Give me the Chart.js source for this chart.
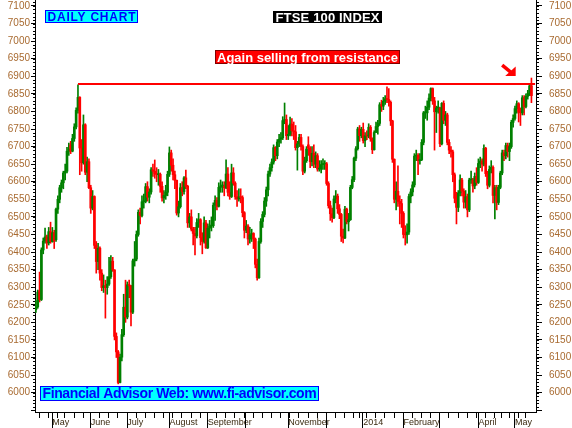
<!DOCTYPE html>
<html><head><meta charset="utf-8">
<script src="https://cdn.jsdelivr.net/npm/chart.js@4/dist/chart.umd.min.js"></script>
<style>html,body{margin:0;padding:0;background:#fff;}canvas{display:block;}</style>
</head><body>
<canvas id="c" width="572" height="428" style="width:572px;height:428px"></canvas>
<script>
// ---- categories: trading days per month ----
const monthKeys = ['2013-04','2013-05','2013-06','2013-07','2013-08','2013-09','2013-10','2013-11','2013-12','2014-01','2014-02','2014-03','2014-04','2014-05'];
const monthDays = [
  [18,19,22,23,24,25,26,29,30],
  [1,2,3,7,8,9,10,13,14,15,16,17,20,21,22,23,24,28,29,30,31],
  [3,4,5,6,7,10,11,12,13,14,17,18,19,20,21,24,25,26,27,28],
  [1,2,3,4,5,8,9,10,11,12,15,16,17,18,19,22,23,24,25,26,29,30,31],
  [1,2,5,6,7,8,9,12,13,14,15,16,19,20,21,22,23,27,28,29,30],
  [2,3,4,5,6,9,10,11,12,13,16,17,18,19,20,23,24,25,26,27,30],
  [1,2,3,4,7,8,9,10,11,14,15,16,17,18,21,22,23,24,25,28,29,30,31],
  [1,4,5,6,7,8,11,12,13,14,15,18,19,20,21,22,25,26,27,28,29],
  [2,3,4,5,6,9,10,11,12,13,16,17,18,19,20,23,24,27,30,31],
  [2,3,6,7,8,9,10,13,14,15,16,17,20,21,22,23,24,27,28,29,30,31],
  [3,4,5,6,7,10,11,12,13,14,17,18,19,20,21,24,25,26,27,28],
  [3,4,5,6,7,10,11,12,13,14,17,18,19,20,21,24,25,26,27,28,31],
  [1,2,3,4,7,8,9,10,11,14,15,16,17,22,23,24,25,28,29,30],
  [1,2,6,7,8,9,12,13,14,15]
];
// x tick labels (shown at first trading day of the month)
const monthLabels = ['', 'May', 'June', 'July', 'August', 'September', '', 'November', '', '2014', 'February', '', 'April', 'May'];

// ---- series values (OHLC) ----
const opens = [
  6236,6244,6290,6265,6406,6431,6443,6426,6458,
  6430,6455,6435,6522,6550,6583,6597,6625,6630,6687,6705,6687,6723,6756,6803,6840,6696,6654,6762,6627,6657,
  6583,6525,6558,6419,6373,6411,6340,6299,6304,6299,6309,6330,6374,6349,6160,6116,6029,6101,6165,6243,
  6215,6307,6304,6229,6375,6380,6450,6513,6504,6543,6544,6586,6556,6571,6634,6630,6623,6620,6621,6587,6554,6561,6570,
  6621,6682,6647,6620,6604,6511,6529,6583,6572,6611,6587,6483,6500,6465,6453,6446,6484,6492,6441,6430,6483,
  6412,6468,6474,6475,6533,6547,6530,6584,6588,6588,6583,6622,6570,6558,6625,6596,6557,6551,6557,6555,6512,
  6462,6474,6437,6449,6453,6437,6365,6327,6430,6487,6507,6545,6577,6622,6640,6656,6697,6674,6713,6721,6725,6774,6777,
  6731,6735,6764,6745,6742,6697,6708,6726,6700,6630,6660,6705,6695,6657,6681,6650,6674,6636,6636,6649,6650,
  6651,6595,6532,6509,6498,6551,6559,6523,6507,6445,6440,6522,6486,6492,6584,6606,6667,6694,6750,6731,
  6749,6717,6731,6730,6755,6722,6691,6740,6757,6766,6819,6815,6829,6836,6834,6826,6773,6664,6550,6573,6544,6538,
  6510,6450,6449,6457,6558,6571,6591,6673,6675,6660,6663,6712,6796,6796,6812,6838,6865,6830,6799,6810,
  6810,6708,6823,6775,6790,6712,6690,6685,6620,6553,6527,6568,6605,6573,6542,6557,6520,6605,6605,6588,6615,
  6598,6652,6659,6650,6695,6623,6590,6635,6641,6561,6583,6541,6584,6625,6682,6674,6703,6686,6700,6769,
  6780,6808,6822,6798,6796,6839,6814,6843,6851,6873
];
const highs = [
  6262,6292,6343,6412,6440,6468,6448,6470,6485,
  6470,6462,6525,6560,6590,6605,6630,6650,6698,6710,6715,6735,6765,6810,6876,6842,6720,6790,6765,6670,6665,
  6590,6575,6560,6430,6425,6415,6350,6335,6320,6330,6385,6390,6385,6350,6170,6120,6110,6180,6280,6320,
  6315,6320,6305,6380,6430,6460,6520,6525,6560,6565,6595,6600,6580,6640,6650,6662,6640,6635,6625,6600,6575,6590,6630,
  6699,6690,6665,6630,6605,6545,6595,6600,6615,6633,6590,6510,6520,6470,6470,6495,6510,6495,6455,6500,6490,
  6480,6490,6500,6540,6560,6555,6597,6605,6600,6600,6662,6640,6600,6650,6640,6600,6575,6580,6580,6560,6515,
  6490,6478,6470,6465,6455,6440,6380,6440,6495,6515,6555,6585,6630,6650,6665,6705,6700,6720,6735,6740,6785,6824,6790,
  6760,6784,6780,6770,6760,6715,6735,6735,6705,6670,6700,6728,6700,6700,6705,6685,6680,6660,6660,6665,6660,
  6655,6600,6545,6525,6560,6575,6565,6535,6510,6465,6530,6525,6510,6590,6615,6670,6700,6755,6760,6755,
  6767,6740,6745,6765,6760,6725,6745,6770,6775,6825,6832,6840,6845,6870,6865,6830,6775,6665,6600,6645,6560,6550,
  6515,6475,6480,6565,6580,6600,6680,6690,6680,6680,6720,6800,6815,6830,6850,6867,6867,6840,6815,6830,
  6812,6825,6830,6800,6795,6720,6700,6690,6625,6570,6575,6620,6610,6580,6575,6565,6610,6630,6610,6625,6640,
  6665,6670,6665,6705,6698,6630,6645,6660,6645,6590,6590,6590,6630,6690,6690,6710,6710,6710,6775,6790,
  6815,6830,6825,6810,6845,6845,6850,6860,6880,6895
];
const lows = [
  6228,6240,6258,6262,6395,6425,6410,6420,6425,
  6428,6410,6430,6510,6540,6570,6580,6605,6625,6675,6680,6685,6715,6750,6795,6620,6630,6650,6620,6600,6580,
  6510,6520,6410,6340,6350,6320,6290,6285,6212,6280,6305,6325,6345,6150,6100,6025,6028,6090,6160,6200,
  6210,6270,6190,6225,6360,6375,6445,6480,6500,6525,6540,6545,6540,6565,6615,6610,6600,6590,6570,6545,6540,6550,6560,
  6615,6630,6605,6580,6505,6500,6525,6560,6565,6580,6470,6470,6460,6420,6392,6440,6470,6420,6395,6425,6410,
  6410,6440,6460,6470,6490,6520,6528,6570,6570,6560,6580,6560,6550,6555,6590,6550,6530,6545,6540,6500,6440,
  6455,6420,6425,6430,6410,6355,6320,6325,6425,6470,6500,6530,6560,6615,6630,6650,6660,6665,6700,6710,6720,6765,6720,
  6720,6730,6730,6720,6690,6633,6700,6690,6620,6625,6655,6675,6640,6645,6640,6640,6630,6630,6625,6635,6635,
  6590,6525,6490,6485,6495,6540,6510,6495,6430,6426,6438,6480,6460,6490,6580,6600,6660,6690,6715,6725,
  6710,6700,6720,6725,6715,6680,6690,6740,6735,6760,6800,6805,6820,6825,6815,6760,6655,6540,6520,6530,6480,6470,
  6440,6420,6425,6450,6540,6560,6585,6660,6620,6650,6660,6705,6780,6775,6805,6830,6820,6690,6740,6795,
  6700,6705,6765,6760,6705,6680,6670,6600,6540,6480,6515,6560,6560,6525,6525,6500,6515,6595,6570,6580,6590,
  6595,6640,6630,6645,6615,6580,6585,6625,6540,6494,6520,6535,6580,6620,6660,6665,6670,6660,6695,6755,
  6775,6795,6770,6760,6790,6790,6810,6835,6845,6825
];
const closes = [
  6244,6286,6265,6406,6431,6443,6426,6458,6430,
  6455,6432,6522,6550,6583,6597,6625,6630,6687,6693,6687,6723,6756,6803,6840,6696,6654,6762,6627,6657,6583,
  6525,6558,6419,6373,6411,6340,6299,6304,6299,6309,6330,6374,6349,6160,6116,6029,6101,6165,6243,6215,
  6307,6304,6229,6375,6380,6450,6513,6504,6543,6544,6586,6556,6571,6634,6630,6623,6620,6621,6587,6554,6561,6570,6621,
  6682,6647,6620,6604,6511,6529,6583,6572,6611,6587,6483,6500,6465,6453,6446,6484,6492,6441,6430,6483,6412,
  6468,6474,6475,6533,6547,6530,6584,6588,6588,6583,6622,6570,6558,6625,6596,6557,6551,6557,6555,6512,6462,
  6474,6437,6449,6453,6437,6365,6327,6430,6487,6507,6545,6577,6622,6640,6656,6697,6674,6713,6721,6725,6774,6777,6731,
  6735,6764,6745,6742,6697,6708,6726,6700,6630,6660,6693,6695,6657,6681,6650,6674,6636,6636,6649,6650,6651,
  6595,6532,6509,6498,6551,6559,6523,6507,6445,6440,6522,6486,6492,6584,6606,6667,6694,6750,6731,6749,
  6717,6731,6730,6755,6722,6691,6740,6757,6766,6819,6815,6829,6836,6834,6826,6773,6664,6550,6573,6544,6538,6510,
  6450,6449,6457,6558,6571,6591,6673,6675,6660,6663,6712,6796,6796,6812,6838,6865,6830,6799,6810,6810,
  6708,6823,6775,6790,6712,6690,6685,6620,6553,6527,6568,6605,6573,6542,6557,6520,6605,6605,6588,6615,6598,
  6652,6659,6650,6695,6623,6590,6635,6641,6561,6583,6541,6584,6625,6682,6674,6703,6686,6700,6769,6780,
  6808,6822,6798,6796,6839,6814,6843,6851,6873,6845
];
const resistanceLevel = 6878;
const resistanceFrom = '2013-05-22';
const yLabelMin = 6000, yLabelMax = 7100;

// ---- build category list ----
const dates = [], tickText = [], monthStart = [];
monthKeys.forEach((m, k) => monthDays[k].forEach((d, j) => {
  dates.push(m + '-' + String(d).padStart(2, '0'));
  tickText.push(j === 0 ? monthLabels[k] : '');
  monthStart.push(j === 0 && k > 0);
}));
const labels = dates.concat(['', '']);  // right margin slots
const n = dates.length;
const UP = '#008000', DOWN = '#ff0000';
const candleColors = closes.map((c, i) => c >= opens[i] ? UP : DOWN);
const wickData = lows.map((l, i) => [l, highs[i]]);
const bodyData = opens.map((o, i) => [o, closes[i]]);
const startIdx = dates.indexOf(resistanceFrom);
const resistData = labels.map((_, i) => (i === startIdx || i === labels.length - 1) ? resistanceLevel : null);

const FONT = "'Liberation Sans', Arial, sans-serif";

function boxText(ctx, text, x, y, w, h, fill, stroke, color, font, targetW) {
  ctx.save();
  ctx.fillStyle = fill; ctx.fillRect(x, y, w, h);
  if (stroke) { ctx.strokeStyle = stroke; ctx.lineWidth = 1; ctx.strokeRect(x + 0.5, y + 0.5, w - 1, h - 1); }
  ctx.font = font;
  const mw = ctx.measureText(text).width;
  const ls = (targetW - mw) / (text.length - 1);
  ctx.letterSpacing = ls.toFixed(2) + 'px';
  ctx.fillStyle = color; ctx.textBaseline = 'middle'; ctx.textAlign = 'left';
  ctx.fillText(text, x + (w - targetW) / 2, y + h / 2 + 1);
  ctx.restore();
}

const decor = {
  id: 'decor',
  beforeDraw(chart) {
    const c = chart.ctx; c.save(); c.fillStyle = '#fff'; c.fillRect(0, 0, chart.width, chart.height); c.restore();
  },
  afterDraw(chart) {
    const ctx = chart.ctx, xs = chart.scales.x, ys = chart.scales.y, a = chart.chartArea;
    ctx.save();
    ctx.fillStyle = '#000';
    // minor y ticks
    for (let v = 5950; v <= 7110; v += 10) {
      const y = Math.round(ys.getPixelForValue(v));
      ctx.fillRect(a.left - 2, y, 2, 1);
      ctx.fillRect(a.right, y, 3, 1);
    }
    // x ticks: weekly and month separators
    const slot = xs.getPixelForValue(1) - xs.getPixelForValue(0);
    for (let i = 0; i < n; i++) {
      const x = Math.round(xs.getPixelForValue(i) - slot * 0.4);
      const d = new Date(dates[i] + 'T12:00:00Z');
      const p = i > 0 ? new Date(dates[i - 1] + 'T12:00:00Z') : null;
      if (monthStart[i]) ctx.fillRect(x, a.bottom + 1, 1, 15);
      else if (p && d.getUTCDay() <= p.getUTCDay()) ctx.fillRect(x, a.bottom + 1, 1, 5);
    }
    // arrow near the latest test of resistance
    const ax = xs.getPixelForValue(n - 17), ay = ys.getPixelForValue(6932);
    ctx.fillStyle = '#ff0000'; ctx.strokeStyle = '#ff0000';
    ctx.lineWidth = 3.5; ctx.lineCap = 'butt';
    ctx.beginPath(); ctx.moveTo(ax, ay); ctx.lineTo(ax + 8.5, ay + 7); ctx.stroke();
    ctx.beginPath(); ctx.moveTo(ax + 13.5, ay + 11); ctx.lineTo(ax + 13.5, ay + 1.5); ctx.lineTo(ax + 3, ay + 11); ctx.closePath(); ctx.fill();
    ctx.restore();
    // text boxes
    boxText(ctx, 'DAILY CHART', 45, 10, 93, 13, '#00ffff', '#0000ff', '#0000ff', 'bold 12px ' + FONT, 88);
    boxText(ctx, 'FTSE 100 INDEX', 273, 11, 109, 12, '#000000', null, '#ffffff', 'bold 13px ' + FONT, 104);
    boxText(ctx, 'Again selling from resistance', 215, 50, 185, 14, '#ff0000', '#800000', '#ffffff', 'bold 13px ' + FONT, 181);
    boxText(ctx, 'Financial Advisor Web: www.fi-advisor.com', 40, 386, 279, 15, '#00ffff', '#0000ff', '#0000ff', 'bold 14px ' + FONT, 274);
  }
};

const yTickCb = v => (v >= yLabelMin && v <= yLabelMax) ? String(v) : '';
const yCommon = {
  min: 5945, max: 7117,
  grid: { drawOnChartArea: false, color: '#000', tickColor: '#000' },
  border: { display: true, color: '#000', width: 1 }
};

new Chart(document.getElementById('c'), {
  type: 'bar',
  data: {
    labels: labels,
    datasets: [
      { type: 'line', data: resistData, borderColor: '#ff0000', borderWidth: 2, pointRadius: 0, spanGaps: true, order: 0 },
      { data: bodyData, backgroundColor: candleColors, barThickness: 2, minBarLength: 1, grouped: false, order: 1 },
      { data: wickData, backgroundColor: candleColors, barThickness: 1, grouped: false, order: 2 }
    ]
  },
  options: {
    responsive: false, animation: false, devicePixelRatio: 1,
    layout: { padding: 0 },
    plugins: { legend: { display: false }, tooltip: { enabled: false } },
    scales: {
      x: {
        type: 'category', offset: true,
        grid: { display: false, drawTicks: false },
        border: { display: true, color: '#000', width: 1 },
        ticks: { autoSkip: false, maxRotation: 0, minRotation: 0, align: 'start', padding: 5,
          color: '#3a2a10', font: { family: FONT, size: 9 },
          callback: (v, i) => i < tickText.length ? tickText[i] : '' },
        afterFit: s => { s.height = 16; s.paddingLeft = 0; s.paddingRight = 0; }
      },
      y: Object.assign({}, yCommon, {
        position: 'left',
        grid: Object.assign({}, yCommon.grid, { tickLength: 4 }),
        ticks: { stepSize: 50, includeBounds: false, padding: 1, color: '#a86a30', font: { family: FONT, size: 10 }, callback: yTickCb },
        afterFit: s => { s.width = 35; s.paddingTop = 0; s.paddingBottom = 0; }
      }),
      y2: Object.assign({}, yCommon, {
        position: 'right',
        grid: Object.assign({}, yCommon.grid, { tickLength: 6 }),
        ticks: { stepSize: 50, includeBounds: false, padding: 7, color: '#a86a30', font: { family: FONT, size: 10 }, callback: yTickCb },
        afterFit: s => { s.width = 36; s.paddingTop = 0; s.paddingBottom = 0; }
      })
    }
  },
  plugins: [decor]
});
</script>
</body></html>
